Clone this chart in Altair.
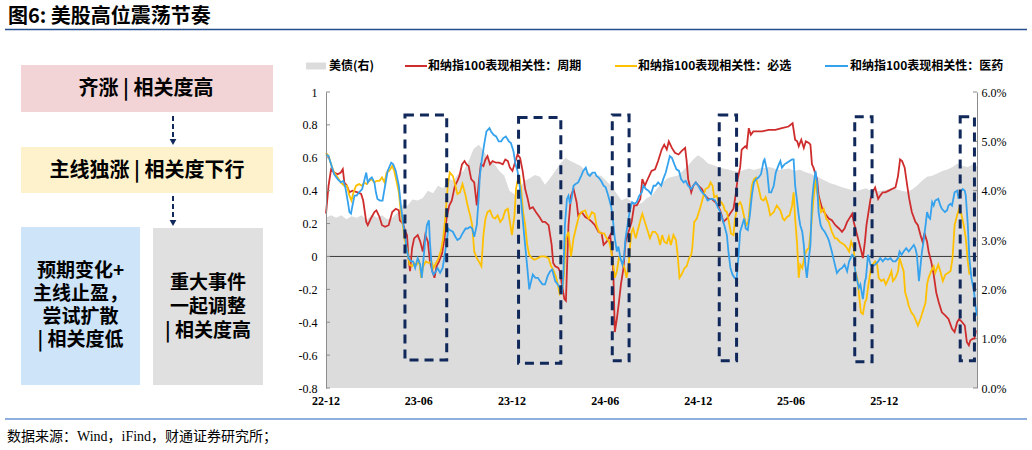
import altair as alt
import pandas as pd

START = pd.Timestamp("2022-12-01")

# ---------------- data ----------------
# US Treasury yield (%), right axis; x in days since 2022-12-01
ust_day = list(range(0, 1271, 10)) + [1278]
ust_pct = [
    3.45, 3.50, 3.45, 3.50, 3.42, 3.48, 3.45, 3.50, 3.40, 3.52,
    3.45, 3.50, 3.42, 3.45, 3.55, 3.72, 3.70, 3.82, 3.80, 3.85,
    4.00, 3.95, 4.10, 4.05, 4.25, 4.20, 4.35, 4.40, 4.60, 4.85,
    4.93, 4.80, 4.60, 4.55, 4.40, 4.30, 4.00, 3.92, 4.05, 4.20,
    4.25, 4.32, 4.28, 4.12, 4.25, 4.40, 4.55, 4.66, 4.60, 4.55,
    4.50, 4.40, 4.35, 4.32, 4.30, 4.20, 4.10, 3.95, 3.80, 3.85,
    3.78, 3.72, 3.75, 3.85, 3.90, 4.05, 4.15, 4.25, 4.28, 4.30,
    4.40, 4.50, 4.62, 4.72, 4.65, 4.55, 4.52, 4.48, 4.45, 4.43,
    4.40, 4.38, 4.42, 4.45, 4.42, 4.45, 4.46, 4.48, 4.45, 4.42,
    4.44, 4.45, 4.40, 4.43, 4.38, 4.35, 4.30, 4.25, 4.20, 4.15,
    4.12, 4.08, 4.05, 4.02, 3.99, 4.02, 4.05, 4.00, 3.99, 4.00,
    4.02, 4.05, 4.03, 4.00, 3.98, 4.02, 4.10, 4.20, 4.28, 4.30,
    4.35, 4.40, 4.43, 4.48, 4.55, 4.50, 4.48, 4.53, 4.50,
]

# correlation with Nasdaq 100: cyclicals
cyc_day = [
    0, 5, 10, 16, 23, 29, 33, 36, 41, 46, 52, 62, 69, 73, 79, 82, 88, 95, 99, 105,
    110, 116, 123, 130, 137, 143, 145, 151, 156, 159, 162, 165, 169, 173, 180, 185, 190, 195, 200, 204,
    209, 213, 217, 222, 228, 233, 237, 242, 247, 253, 258, 262, 267, 272, 276, 280, 285, 291, 296, 300,
    304, 309, 313, 317, 322, 327, 334, 340, 347, 352, 357, 361, 366, 372, 376, 381, 386, 391, 396, 400,
    406, 412, 419, 425,
    430, 437, 440, 443, 446, 450, 456, 459, 463, 468, 471, 476, 481, 486, 489, 492, 495, 502, 509, 515,
    522, 528, 535, 541, 545, 551, 558, 564, 567, 571, 575, 579, 584, 588, 594, 600, 605, 610, 617, 621,
    626, 633, 639, 646, 652, 659, 664, 669, 673, 679, 685, 692, 698, 705, 708, 711, 717, 721, 726, 731,
    738, 744, 751, 757, 764, 770, 776, 780, 787, 793, 800, 804, 808, 813, 816, 823, 826, 830, 834, 839,
    846, 852,
    856, 869, 882, 895, 908, 916, 921, 925, 928, 933, 938, 942, 948, 951, 954, 957, 964, 967, 974, 980,
    987, 993, 1000, 1007, 1013, 1018, 1023, 1027, 1033, 1036, 1041, 1046, 1051, 1054, 1058, 1061, 1065, 1069, 1073, 1078,
    1084, 1088, 1093, 1098, 1105, 1111, 1118, 1123, 1127, 1131, 1136, 1141, 1145, 1150, 1157, 1162, 1167, 1171, 1175, 1180,
    1183, 1188, 1193, 1198, 1203, 1209, 1216, 1222, 1229, 1234, 1239, 1243, 1249, 1254, 1258, 1262, 1265, 1270, 1273, 1276,
]
cyc_val = [
    0.26, 0.43, 0.53, 0.51, 0.50, 0.51, 0.53, 0.45, 0.43, 0.39, 0.40, 0.39, 0.38, 0.34, 0.21, 0.19, 0.23, 0.27, 0.28, 0.24,
    0.19, 0.18, 0.19, 0.27, 0.29, 0.28, 0.22, 0.20, 0.15, 0.13, -0.01, -0.09, 0.05, 0.11, 0.13, 0.09, 0.03, 0.13, 0.09, -0.03,
    -0.09, -0.13, -0.06, -0.03, 0.02, 0.12, 0.24, 0.31, 0.34, 0.43, 0.46, 0.49, 0.56, 0.58, 0.56, 0.55, 0.47, 0.45, 0.31, 0.45,
    0.56, 0.55, 0.59, 0.61, 0.56, 0.58, 0.57, 0.57, 0.56, 0.59, 0.58, 0.54, 0.52, 0.58, 0.62, 0.60, 0.52, 0.41, 0.35, 0.29,
    0.30, 0.27, 0.24, 0.21,
    0.21, 0.19, 0.13, 0.07, -0.04, -0.06, -0.07, -0.09, -0.17, -0.26, -0.27, 0.19, 0.37, 0.41, 0.37, 0.33, 0.25, 0.27, 0.24, 0.23,
    0.21, 0.19, 0.15, 0.14, 0.07, 0.09, 0.13, -0.09, -0.46, -0.38, -0.28, -0.17, -0.07, 0.09, 0.15, 0.21, 0.31, 0.31, 0.35, 0.47,
    0.43, 0.48, 0.52, 0.53, 0.58, 0.65, 0.68, 0.65, 0.70, 0.66, 0.63, 0.62, 0.64, 0.66, 0.58, 0.47, 0.39, 0.43, 0.45, 0.43,
    0.41, 0.37, 0.35, 0.35, 0.33, 0.31, 0.26, 0.21, 0.23, 0.26, 0.29, 0.37, 0.47, 0.54, 0.65, 0.67, 0.66, 0.78, 0.74, 0.76,
    0.76, 0.76,
    0.76, 0.77, 0.77, 0.78, 0.79, 0.81, 0.71, 0.70, 0.67, 0.71, 0.66, 0.70, 0.69, 0.68, 0.56, 0.54, 0.47, 0.37, 0.29, 0.26,
    0.23, 0.22, 0.19, 0.17, 0.15, 0.17, 0.21, 0.23, 0.26, 0.21, 0.15, 0.09, 0.03, -0.01, 0.09, 0.19, 0.27, 0.35, 0.39, 0.42,
    0.35, 0.37, 0.39, 0.39, 0.40, 0.41, 0.42, 0.49, 0.59, 0.58, 0.54, 0.43, 0.35, 0.27, 0.21, 0.19, 0.13, 0.09, 0.14, 0.09,
    0.03, -0.03, -0.11, -0.22, -0.28, -0.34, -0.36, -0.38, -0.44, -0.46, -0.40, -0.38, -0.40, -0.42, -0.52, -0.54, -0.51, -0.50, -0.50, -0.45,
]

# correlation with Nasdaq 100: consumer staples
stp_day = [
    0, 5, 10, 16, 23, 29, 36, 41, 46, 50, 54, 59, 65, 71, 75, 80, 85, 90, 95, 99,
    105, 110, 115, 119, 124, 130, 134, 139, 143, 147, 151, 154, 157, 160, 164, 169, 173, 178, 183, 187,
    191, 196, 202, 207, 211, 216, 221, 226, 230, 234, 239, 243, 249, 254, 258, 263, 268, 274, 278, 283,
    287, 291, 296, 300, 305, 309, 313, 317, 322, 327, 332, 337, 342, 347, 352, 357, 361, 365, 370, 373,
    376, 380, 383, 387, 391, 395, 399, 404, 409, 416, 422, 429,
    437, 442, 446, 451, 455, 459, 463, 467, 471, 476, 481, 486, 492, 497, 502, 509, 512, 516, 522, 527,
    531, 536, 541, 546, 551, 556, 560, 564, 567, 571, 575, 581, 586, 590, 594, 597, 600, 603, 608, 613,
    618, 621, 626, 632, 636, 641, 646, 651, 656, 660, 664, 669, 673, 677, 682, 687, 690, 694, 698, 704,
    708, 713, 717, 719, 723, 728, 732, 736, 741, 745, 751, 755, 759, 762, 767, 770, 776, 780, 783, 787,
    791, 795, 800, 803, 808, 813, 816, 821, 825, 829, 832, 836, 840, 844, 849, 854, 859,
    863, 868, 872, 879, 885, 892, 897, 900, 905, 910, 915, 918, 921, 925, 928, 931, 935, 940, 944, 948,
    953, 957, 961, 964, 967, 972, 977, 982, 987, 993, 999, 1003, 1008, 1013, 1018, 1023, 1027, 1031, 1036, 1039,
    1043, 1046, 1050, 1054, 1058, 1061, 1065, 1069, 1073, 1078, 1082, 1085, 1090, 1095, 1099, 1105, 1110, 1113, 1118, 1123,
    1126, 1130, 1134, 1137, 1141, 1144, 1149, 1154, 1158, 1162, 1167, 1171, 1177, 1180, 1183, 1188, 1193, 1196, 1202, 1206,
    1211, 1216, 1221, 1226, 1230, 1234, 1239, 1243, 1247, 1252, 1256, 1260, 1263,
]
stp_val = [
    0.63, 0.61, 0.56, 0.51, 0.48, 0.45, 0.43, 0.43, 0.37, 0.34, 0.39, 0.43, 0.44, 0.43, 0.45, 0.44, 0.46, 0.47, 0.45, 0.46,
    0.46, 0.48, 0.45, 0.51, 0.52, 0.55, 0.52, 0.45, 0.39, 0.27, 0.19, 0.11, 0.07, 0.03, -0.05, -0.06, -0.04, -0.05, -0.03, -0.13,
    -0.06, -0.03, -0.04, -0.03, -0.07, -0.04, -0.01, 0.04, 0.11, 0.23, 0.43, 0.51, 0.49, 0.43, 0.38, 0.39, 0.44, 0.37, 0.31, 0.25,
    0.19, 0.03, -0.01, -0.03, -0.06, 0.13, 0.23, 0.27, 0.28, 0.24, 0.23, 0.25, 0.21, 0.23, 0.28, 0.29, 0.21, 0.13, 0.25, 0.41,
    0.46, 0.48, 0.41, 0.27, 0.19, 0.07, 0.01, -0.01, -0.02, -0.01, 0.00, 0.00,
    -0.01, -0.06, -0.08, -0.12, -0.17, -0.23, -0.22, -0.12, 0.11, 0.15, 0.00, 0.11, 0.19, 0.25, 0.27, 0.28, 0.25, 0.23, 0.27, 0.26,
    0.19, 0.15, 0.14, 0.14, 0.11, 0.09, 0.03, -0.05, -0.13, -0.09, -0.01, -0.03, -0.07, -0.13, -0.06, 0.07, 0.15, 0.17, 0.11, 0.17,
    0.23, 0.26, 0.21, 0.15, 0.11, 0.15, 0.15, 0.13, 0.07, 0.13, 0.09, 0.08, 0.12, 0.07, 0.13, 0.10, 0.02, -0.13, -0.11, -0.07,
    -0.06, -0.01, 0.01, 0.05, 0.21, 0.23, 0.27, 0.31, 0.37, 0.41, 0.42, 0.45, 0.43, 0.36, 0.37, 0.34, 0.33, 0.31, 0.28, 0.27,
    0.21, 0.14, 0.13, 0.23, 0.31, 0.33, 0.31, 0.24, 0.19, 0.21, 0.31, 0.43, 0.47, 0.48, 0.42, 0.35, 0.34,
    0.36, 0.31, 0.25, 0.27, 0.31, 0.28, 0.23, 0.22, 0.24, 0.25, 0.31, 0.39, 0.23, 0.07, -0.13, -0.05, -0.07, 0.01, 0.04, 0.05,
    0.20, 0.35, 0.47, 0.39, 0.35, 0.27, 0.29, 0.23, 0.21, 0.15, 0.11, 0.11, 0.09, 0.08, 0.07, 0.05, 0.03, 0.09, 0.05, -0.09,
    -0.13, -0.22, -0.34, -0.35, -0.28, -0.26, -0.17, -0.09, -0.05, -0.03, -0.05, -0.13, -0.15, -0.14, -0.17, -0.13, -0.09, -0.15, -0.13, -0.09,
    -0.01, -0.05, -0.09, -0.22, -0.26, -0.30, -0.34, -0.36, -0.39, -0.42, -0.38, -0.34, -0.28, -0.17, -0.13, -0.09, -0.06, -0.10, -0.05, -0.09,
    -0.15, -0.11, -0.10, -0.09, -0.01, 0.19, 0.25, 0.29, 0.26, 0.19, 0.11, -0.03, -0.11,
]

# correlation with Nasdaq 100: healthcare
med_day = [
    0, 5, 10, 16, 23, 29, 34, 38, 43, 46, 49, 52, 56, 60, 65, 71, 75, 79, 82, 86,
    90, 95, 98, 101, 106, 111, 116, 121, 128, 132, 137, 143, 147, 152, 156, 158, 162, 167, 171, 175,
    180, 185, 188, 191, 195, 198, 202, 204, 208, 211, 216, 219, 224, 229, 233, 237, 240, 243, 249, 254,
    258, 263, 268, 274, 278, 283, 287, 291, 296, 300, 302, 306, 311, 315, 321, 324, 329, 334, 339, 344,
    348, 353, 359, 363, 368, 372, 376, 381, 385, 389, 394, 397, 399, 402, 406, 411, 416, 420, 425,
    430, 435, 440, 444, 450, 455, 459, 463, 466, 469, 473, 476, 479, 482, 486, 490, 495, 501, 505, 510,
    514, 518, 523, 528, 531, 535, 540, 545, 549, 554, 560, 563, 567, 571, 574, 578, 582, 585, 588, 592,
    596, 599, 601, 605, 610, 615, 620, 623, 628, 633, 638, 643, 647, 652, 658, 662, 667, 671, 675, 679,
    684, 688, 693, 697, 702, 706, 711, 717, 721, 726, 731, 736, 741, 745, 749, 754, 759, 764, 769, 774,
    778, 782, 787, 790, 794, 798, 802, 806, 810, 813, 817, 821, 824, 828, 832, 836, 840, 844, 849, 854, 859,
    861, 866, 870, 874, 879, 883, 889, 892, 895, 900, 905, 910, 915, 918, 921, 925, 928, 931, 935, 938,
    941, 944, 948, 951, 954, 957, 961, 964, 967, 971, 974, 979, 984, 987, 993, 999, 1003, 1008, 1013, 1018,
    1023, 1027, 1033, 1036, 1039, 1043, 1046, 1049, 1054, 1058, 1060, 1064, 1069, 1073, 1078, 1084, 1088, 1093, 1098, 1103,
    1108, 1113, 1118, 1123, 1126, 1130, 1134, 1139, 1144, 1149, 1154, 1157, 1160, 1164, 1167, 1170, 1173, 1177, 1180, 1183,
    1186, 1190, 1193, 1196, 1202, 1206, 1209, 1215, 1219, 1222, 1226, 1229, 1234, 1239, 1242, 1245, 1250, 1254, 1256, 1260,
    1263, 1267, 1272, 1275, 1278,
]
med_val = [
    0.62, 0.61, 0.56, 0.50, 0.47, 0.45, 0.46, 0.42, 0.33, 0.27, 0.26, 0.31, 0.37, 0.37, 0.39, 0.41, 0.46, 0.51, 0.45, 0.47,
    0.48, 0.45, 0.39, 0.35, 0.34, 0.34, 0.43, 0.52, 0.57, 0.56, 0.52, 0.43, 0.31, 0.19, 0.11, 0.05, -0.01, -0.03, -0.03, -0.07,
    -0.01, -0.05, -0.13, -0.03, 0.11, 0.19, 0.22, 0.09, -0.09, -0.11, -0.09, -0.07, -0.10, -0.07, 0.01, 0.09, 0.17, 0.16, 0.15, 0.12,
    0.10, 0.11, 0.14, 0.17, 0.17, 0.18, 0.17, 0.12, 0.19, 0.37, 0.49, 0.59, 0.69, 0.76, 0.78, 0.76, 0.74, 0.73, 0.70, 0.70,
    0.72, 0.73, 0.70, 0.69, 0.64, 0.56, 0.52, 0.41, 0.27, 0.13, -0.03, -0.13, -0.20, -0.16, -0.11, -0.13, -0.13, -0.15, -0.17,
    -0.17, -0.12, -0.09, -0.08, -0.15, -0.17, -0.19, -0.23, -0.11, 0.19, 0.35, 0.37, 0.32, 0.35, 0.43, 0.44, 0.45, 0.49, 0.52, 0.54,
    0.50, 0.49, 0.51, 0.51, 0.49, 0.48, 0.46, 0.43, 0.42, 0.37, 0.30, 0.23, 0.11, 0.03, 0.06, -0.01, -0.05, -0.01, 0.11, 0.19,
    0.27, 0.31, 0.33, 0.32, 0.33, 0.37, 0.39, 0.43, 0.41, 0.40, 0.38, 0.43, 0.43, 0.45, 0.43, 0.47, 0.51, 0.56, 0.61, 0.60,
    0.56, 0.53, 0.52, 0.47, 0.45, 0.46, 0.43, 0.41, 0.43, 0.45, 0.43, 0.40, 0.38, 0.37, 0.34, 0.35, 0.35, 0.34, 0.30, 0.27,
    0.23, 0.19, 0.13, 0.03, -0.07, -0.11, -0.13, -0.14, 0.01, 0.15, 0.19, 0.23, 0.17, 0.16, 0.25, 0.37, 0.45, 0.47, 0.48, 0.50, 0.58,
    0.59, 0.52, 0.39, 0.39, 0.43, 0.51, 0.56, 0.58, 0.54, 0.56, 0.57, 0.58, 0.59, 0.59, 0.43, 0.33, 0.25, 0.19, 0.15, 0.07,
    -0.05, -0.13, -0.01, 0.07, 0.33, 0.43, 0.52, 0.45, 0.27, 0.19, 0.17, 0.15, 0.12, 0.10, 0.03, -0.05, -0.10, -0.08, -0.07, -0.05,
    -0.09, -0.03, 0.01, 0.00, -0.09, -0.15, -0.19, -0.17, -0.26, -0.15, -0.13, 0.01, -0.05, -0.06, -0.05, -0.03, -0.01, -0.03, -0.01, -0.02,
    -0.01, -0.03, -0.03, -0.01, 0.03, 0.01, 0.03, 0.05, 0.03, 0.05, 0.07, 0.05, 0.01, -0.15, -0.06, 0.03, 0.09, 0.19, 0.27, 0.24,
    0.23, 0.33, 0.31, 0.34, 0.35, 0.31, 0.29, 0.27, 0.28, 0.31, 0.32, 0.31, 0.39, 0.40, 0.35, 0.39, 0.41, 0.40, 0.37, 0.19,
    -0.01, -0.13, -0.21, -0.30, -0.36,
]

# highlighted shake-out windows (days since 2022-12-01) and their vertical extent
win_start = [155, 378, 562, 772, 1038, 1245]
win_end = [237, 461, 595, 806, 1072, 1273]
win_top = [0.86, 0.845, 0.86, 0.86, 0.85, 0.85]
win_bottom = [-0.63, -0.65, -0.635, -0.635, -0.64, -0.635]

SERIES = ["和纳指100表现相关性：周期", "和纳指100表现相关性：必选", "和纳指100表现相关性：医药"]
COLORS = ["#CF2D2D", "#FFC000", "#35A2EE"]
AREA_GRAY = "#DCDCDC"
NAVY = "#10295A"

left_ticks = [-0.8, -0.6, -0.4, -0.2, 0, 0.2, 0.4, 0.6, 0.8, 1]
right_ticks = [0, 1, 2, 3, 4, 5, 6]
x_tick_dates = ["2022-12-01", "2023-06-01", "2023-12-01", "2024-06-01", "2024-12-01", "2025-06-01", "2025-12-01"]
x_tick_labels = ["22-12", "23-06", "23-12", "24-06", "24-12", "25-06", "25-12"]


def to_dates(days):
    return [(START + pd.Timedelta(days=d)).strftime("%Y-%m-%d") for d in days]


ust_df = pd.DataFrame({"date": to_dates(ust_day), "pct": ust_pct})
lines_df = pd.concat(
    [
        pd.DataFrame({"date": to_dates(d), "value": v, "series": s, "order": k})
        for k, (d, v, s) in enumerate(
            [(cyc_day, cyc_val, SERIES[0]), (stp_day, stp_val, SERIES[1]), (med_day, med_val, SERIES[2])]
        )
    ],
    ignore_index=True,
)
win_df = pd.DataFrame(
    {"start": to_dates(win_start), "end": to_dates(win_end), "top": win_top, "bottom": win_bottom}
)
xtick_df = pd.DataFrame({"date": x_tick_dates, "label": x_tick_labels})

# ---------------- scales & axes ----------------
SERIF = "Liberation Serif"
CJK = "Noto Sans CJK SC"
W, H = 651, 296

x_scale = alt.Scale(
    type="utc",
    domain=[alt.DateTime(year=2022, month=12, date=1, utc=True), alt.DateTime(year=2026, month=6, date=1, utc=True)],
)
y_left = alt.Scale(domain=[-0.8, 1], nice=False, zero=False)
y_right = alt.Scale(domain=[0, 6], nice=False, zero=False)
left_axis = alt.Axis(
    orient="left",
    values=left_ticks,
    labelExpr="toString(datum.value)",
    labelFont=SERIF,
    labelFontSize=12,
    labelColor="#000000",
    labelPadding=9,
    domainColor="#8C8C8C",
    ticks=False,
    grid=False,
    title=None,
    zindex=2,
)
right_axis = alt.Axis(
    orient="right",
    values=right_ticks,
    labelExpr="format(datum.value, '.1f') + '%'",
    labelFont=SERIF,
    labelFontSize=12,
    labelColor="#000000",
    labelPadding=4,
    domainColor="#8C8C8C",
    ticks=False,
    grid=False,
    title=None,
    zindex=2,
)

# ---------------- yield area (right axis) ----------------
area = alt.Chart(ust_df).mark_area(color=AREA_GRAY, interpolate="linear").encode(
    x=alt.X("date:T", scale=x_scale, axis=None),
    y=alt.Y("pct:Q", scale=y_right, axis=right_axis),
)
r_ticks = alt.Chart(pd.DataFrame({"v": right_ticks})).mark_rule(color="#8C8C8C").encode(
    y=alt.Y("v:Q", scale=y_right, axis=None),
    x=alt.value(W - 4),
    x2=alt.value(W),
)

# date labels under the plot, placed through the time scale
x_labels = alt.Chart(xtick_df).mark_text(
    font=SERIF, fontSize=12, fontWeight="bold", color="#000000", align="center", baseline="middle"
).encode(
    x=alt.X("date:T", scale=x_scale, axis=None),
    y=alt.value(H + 13),
    text="label:N",
)

# ---------------- correlations (left axis) ----------------
zero = alt.Chart(pd.DataFrame({"v": [0]})).mark_rule(color="#3A3A3A", strokeWidth=1).encode(
    y=alt.Y("v:Q", scale=y_left, axis=None)
)
lines = alt.Chart(lines_df).mark_line(strokeWidth=1.8).encode(
    x=alt.X("date:T", scale=x_scale, axis=None),
    y=alt.Y("value:Q", scale=y_left, axis=left_axis),
    color=alt.Color("series:N", scale=alt.Scale(domain=SERIES, range=COLORS), legend=None),
    order="order:Q",
)
windows = alt.Chart(win_df).mark_rect(
    filled=False, color=NAVY, strokeWidth=3, strokeDash=[9, 6]
).encode(
    x=alt.X("start:T", scale=x_scale, axis=None),
    x2="end:T",
    y=alt.Y("top:Q", scale=y_left, axis=None),
    y2="bottom:Q",
)
l_ticks = alt.Chart(pd.DataFrame({"v": left_ticks})).mark_rule(color="#8C8C8C").encode(
    y=alt.Y("v:Q", scale=y_left, axis=None),
    x=alt.value(0),
    x2=alt.value(4),
)

# ---------------- page furniture (page coordinates) ----------------
OX, OY = 326, 92
one = pd.DataFrame({"k": [0]})


def text_at(txt, x, y, size, weight="normal", font=CJK, align="left", color="#000000", line_height=None):
    kw = dict(text=txt, fontSize=size, fontWeight=weight, font=font, align=align, baseline="middle", color=color)
    if line_height:
        kw["lineHeight"] = line_height
    return alt.Chart(one).mark_text(**kw).encode(x=alt.value(x - OX), y=alt.value(y - OY))


def rect_at(x0, y0, x1, y1, color):
    return alt.Chart(one).mark_rect(color=color).encode(
        x=alt.value(x0 - OX), x2=alt.value(x1 - OX), y=alt.value(y0 - OY), y2=alt.value(y1 - OY)
    )


def rule_at(x0, y0, x1, y1, color, width, dash=None):
    kw = dict(color=color, strokeWidth=width)
    if dash:
        kw["strokeDash"] = dash
    return alt.Chart(one).mark_rule(**kw).encode(
        x=alt.value(x0 - OX), x2=alt.value(x1 - OX), y=alt.value(y0 - OY), y2=alt.value(y1 - OY)
    )


def arrow_at(x, y0, y1):
    stem = rule_at(x, y0, x, y1 - 5, NAVY, 2, [5, 3])
    head = alt.Chart(one).mark_point(shape="triangle-down", filled=True, size=45, color=NAVY, opacity=1).encode(
        x=alt.value(x - OX), y=alt.value(y1 - 3 - OY)
    )
    return [stem, head]


furniture = [
    # heading and rules
    text_at("图6: 美股高位震荡节奏", 8, 17, 20, "bold"),
    rule_at(5, 29.5, 1027, 29.5, "#234F8E", 1.5),
    rule_at(5, 419, 1027, 419, "#8DB0DC", 2),
    text_at("数据来源：Wind，iFind，财通证券研究所；", 7, 437, 14, font=f"{SERIF}, {CJK}"),
    # legend
    rect_at(306, 62.5, 326, 69.5, AREA_GRAY),
    text_at("美债(右)", 329, 66, 12, "bold"),
    rule_at(405, 66, 427, 66, COLORS[0], 2),
    text_at(SERIES[0], 428, 66, 12, "bold"),
    rule_at(615, 66, 637, 66, COLORS[1], 2),
    text_at(SERIES[1], 638, 66, 12, "bold"),
    rule_at(825, 66, 848, 66, COLORS[2], 2),
    text_at(SERIES[2], 850, 66, 12, "bold"),
    # regime diagram
    rect_at(21, 65, 273, 112, "#F3D4D6"),
    text_at("齐涨 | 相关度高", 146, 89, 20, "bold", align="center"),
    rect_at(21, 147, 273, 193, "#FDF2CC"),
    text_at("主线独涨 | 相关度下行", 147, 171, 20, "bold", align="center"),
    rect_at(21, 227, 140, 385, "#CDE4F9"),
    text_at(["预期变化+", "主线止盈，", "尝试扩散", "| 相关度低"], 80.5, 271, 19, "bold",
            align="center", line_height=23),
    rect_at(153, 228, 263, 385, "#E0E0E0"),
    text_at(["重大事件", "一起调整", "| 相关度高"], 208, 283, 19, "bold", align="center", line_height=24),
]
furniture += arrow_at(173, 116, 145)
furniture += arrow_at(173, 196, 226)

chart = (
    alt.layer(area, r_ticks, x_labels, zero, lines, windows, l_ticks, *furniture)
    .resolve_scale(y="independent")
    .properties(
        width=W,
        height=H,
        padding={"left": OX, "top": OY, "right": 1032 - OX - W, "bottom": 450 - OY - H},
        autosize=alt.AutoSizeParams(type="none"),
        background="white",
    )
    .configure_view(stroke=None)
)

chart.save("out.html", embed_options={"renderer": "svg", "actions": False})
